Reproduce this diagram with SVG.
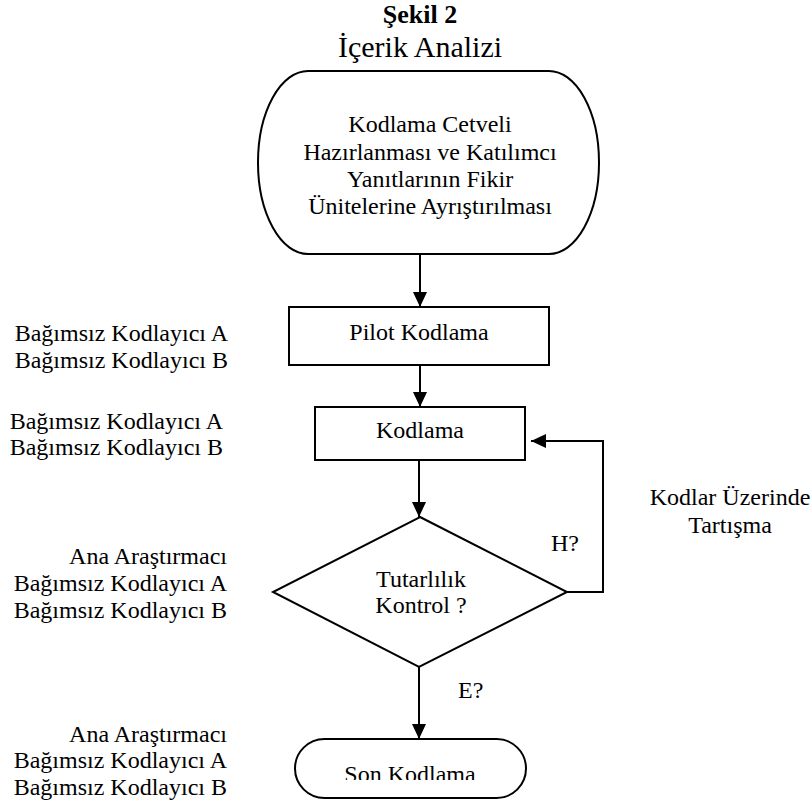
<svg xmlns="http://www.w3.org/2000/svg" width="812" height="801" viewBox="0 0 812 801">
<defs>
<style>
text{font-family:"Liberation Serif","Times New Roman",serif;font-size:24px;fill:#000}
.c{text-anchor:middle}
.e{text-anchor:end}
.shape{fill:#fff;stroke:#000;stroke-width:2}
.conn{fill:none;stroke:#000;stroke-width:2}
</style>
<marker id="arr" viewBox="0 0 15 14" refX="15" refY="7" markerWidth="15" markerHeight="14" markerUnits="userSpaceOnUse" orient="auto">
<path d="M0,0 L15,7 L0,14 z" fill="#000"/>
</marker>
<clipPath id="sonclip"><rect x="295" y="739" width="231" height="41"/></clipPath>
</defs>
<rect width="812" height="801" fill="#fff"/>
<g id="title">
<text class="c" x="420" y="23" style="font-weight:bold;font-size:26px">Şekil 2</text>
<text class="c" x="420" y="57" style="font-size:30px">İçerik Analizi</text>
</g>
<g id="connectors">
<line class="conn" x1="420" y1="255" x2="420" y2="307" marker-end="url(#arr)"/>
<line class="conn" x1="420" y1="365" x2="420" y2="407" marker-end="url(#arr)"/>
<line class="conn" x1="419" y1="460" x2="419" y2="517" marker-end="url(#arr)"/>
<line class="conn" x1="419" y1="667" x2="419" y2="739" marker-end="url(#arr)"/>
<polyline class="conn" points="567,592 603,592 603,441 531,441" marker-end="url(#arr)"/>
<text x="551" y="551">H?</text>
<text x="458" y="698">E?</text>
</g>
<g id="start">
<rect class="shape" x="258" y="71" width="341" height="183" rx="50" ry="91.5"/>
<text class="c" x="430" y="132">Kodlama Cetveli</text>
<text class="c" x="430" y="160">Hazırlanması ve Katılımcı</text>
<text class="c" x="430" y="187">Yanıtlarının Fikir</text>
<text class="c" x="430" y="214">Ünitelerine Ayrıştırılması</text>
</g>
<g id="pilot">
<rect class="shape" x="289" y="307" width="260" height="58"/>
<text class="c" x="419" y="340">Pilot Kodlama</text>
</g>
<g id="kodlama">
<rect class="shape" x="315" y="407" width="210" height="53"/>
<text class="c" x="420" y="438">Kodlama</text>
</g>
<g id="kontrol">
<polygon class="shape" points="420,517 567,592 419,667 273,592"/>
<text class="c" x="421" y="587">Tutarlılık</text>
<text class="c" x="421" y="613">Kontrol ?</text>
</g>
<g id="son">
<rect class="shape" x="295" y="739" width="231" height="59" rx="29.5" ry="29.5"/>
<text class="c" x="410" y="782" clip-path="url(#sonclip)">Son Kodlama</text>
</g>
<g id="tartisma">
<text class="c" x="730" y="505">Kodlar Üzerinde</text>
<text class="c" x="730" y="533">Tartışma</text>
</g>
<g id="labels">
<text class="e" x="228" y="341">Bağımsız Kodlayıcı A</text>
<text class="e" x="228" y="368">Bağımsız Kodlayıcı B</text>
<text class="e" x="223" y="429">Bağımsız Kodlayıcı A</text>
<text class="e" x="223" y="455">Bağımsız Kodlayıcı B</text>
<text class="e" x="227" y="564">Ana Araştırmacı</text>
<text class="e" x="227" y="591">Bağımsız Kodlayıcı A</text>
<text class="e" x="227" y="618">Bağımsız Kodlayıcı B</text>
<text class="e" x="227" y="742">Ana Araştırmacı</text>
<text class="e" x="227" y="768">Bağımsız Kodlayıcı A</text>
<text class="e" x="227" y="795">Bağımsız Kodlayıcı B</text>
</g>
</svg>
